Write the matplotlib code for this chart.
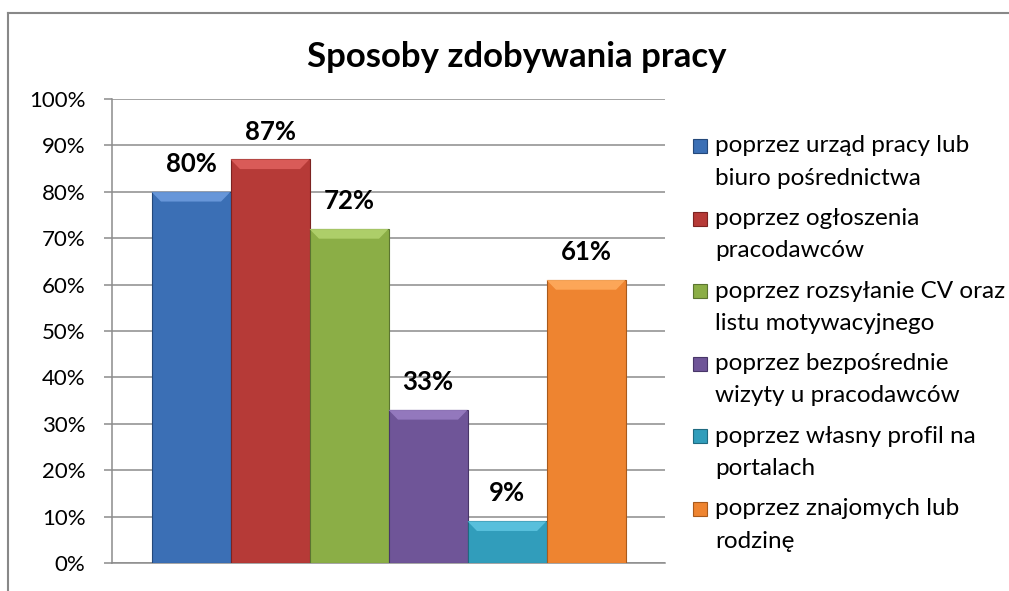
import matplotlib.pyplot as plt
import matplotlib.patches as mpatches
from matplotlib.lines import Line2D
from matplotlib.ticker import PercentFormatter
import numpy as np

plt.rcParams["font.family"] = ["Lato", "DejaVu Sans"]

title = "Sposoby zdobywania pracy"
labels = [
    "poprzez urząd pracy lub\nbiuro pośrednictwa",
    "poprzez ogłoszenia\npracodawców",
    "poprzez rozsyłanie CV oraz\nlistu motywacyjnego",
    "poprzez bezpośrednie\nwizyty u pracodawców",
    "poprzez własny profil na\nportalach",
    "poprzez znajomych lub\nrodzinę",
]
values = [0.80, 0.87, 0.72, 0.33, 0.09, 0.61]
colors = ["#3b6fb5", "#b63a37", "#8bae46", "#6f5598", "#319dbb", "#ee8430"]
light = ["#6f9ee0", "#e0625e", "#b4d470", "#9a7fc4", "#5fc6e2", "#ffad60"]
dark = ["#24487a", "#7c2321", "#5b7530", "#483668", "#1f6a80", "#a85a1c"]
yticks = np.arange(0, 1.01, 0.1)

W, H = 1009, 591
fig = plt.figure(figsize=(W / 100, H / 100), dpi=100)
ax = fig.add_axes([112 / W, (H - 563) / H, (665 - 112) / W, (563 - 99) / H])

x = np.arange(len(values))
bars = ax.bar(x, values, width=1.0, color=colors, edgecolor=dark, linewidth=0.8, zorder=3)

# top bevel, like the Excel 2007 style
bev_h = 0.021
bev_in = 0.12
for xi, v, lc in zip(x, values, light):
    x0, x1 = xi - 0.5, xi + 0.5
    poly = mpatches.Polygon(
        [(x0, v), (x1, v), (x1 - bev_in, v - bev_h), (x0 + bev_in, v - bev_h)],
        closed=True, facecolor=lc, edgecolor="none", zorder=4, alpha=0.85,
    )
    ax.add_patch(poly)

for xi, v in zip(x, values):
    ax.annotate(f"{v * 100:.0f}%", (xi, v), xytext=(0, 20), textcoords="offset points",
                ha="center", va="center", fontsize=18.5, fontweight="bold", color="black")

ax.set_xlim(-1, 6)
ax.set_ylim(0, 1)
ax.set_yticks(yticks)
ax.yaxis.set_major_formatter(PercentFormatter(1.0, decimals=0))
ax.set_xticks([])
ax.grid(axis="y", color="#8c8c8c", linewidth=1.1, zorder=0)
ax.tick_params(axis="y", length=6, width=1.1, color="#8c8c8c", labelsize=16, pad=13)
for s in ["top", "right"]:
    ax.spines[s].set_visible(False)
for s in ["left", "bottom"]:
    ax.spines[s].set_color("#8c8c8c")
    ax.spines[s].set_linewidth(1.1)

fig.text(517 / W, 1 - 57 / H, title, ha="center", va="center", fontsize=25, fontweight="bold")

# legend, marker aligned to first line of each entry
for i, (lab, c, d) in enumerate(zip(labels, colors, dark)):
    yc = 146 + 72.6 * i
    fig.patches.append(mpatches.Rectangle((693 / W, 1 - (yc + 7) / H), 14 / W, 14 / H,
                                          transform=fig.transFigure, facecolor=c,
                                          edgecolor=d, linewidth=0.8))
    fig.text(715 / W, 1 - (yc + 16) / H, lab, ha="left", va="center", fontsize=17.5,
             linespacing=1.65)

# chart area border
fig.add_artist(Line2D([8 / W, 1], [1 - 12.5 / H, 1 - 12.5 / H], color="#888888", lw=1.5,
                      transform=fig.transFigure))
fig.add_artist(Line2D([8 / W, 8 / W], [0, 1 - 12.5 / H], color="#888888", lw=1.5,
                      transform=fig.transFigure))

fig.savefig("out.png", dpi=100)
